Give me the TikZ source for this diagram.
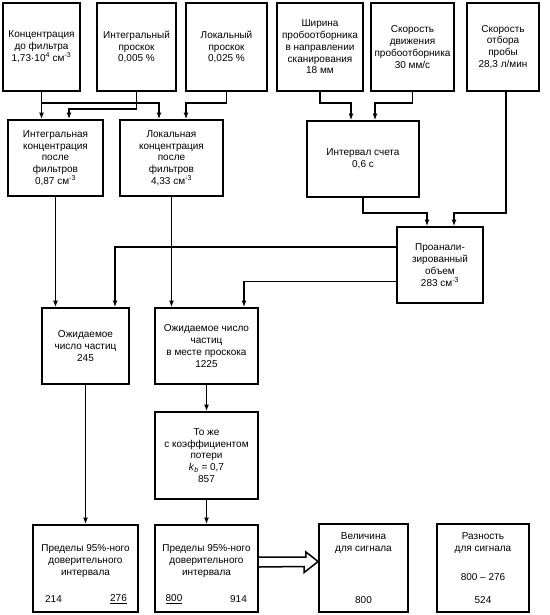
\documentclass[tikz,border=0pt]{standalone}
\usepackage{fontspec}
\setmainfont{Liberation Sans}
\usetikzlibrary{arrows.meta}

\begin{document}
\begin{tikzpicture}[x=1pt,y=-1pt,
        >={Latex[length=6.5pt,width=5pt]},
        blk/.style={draw, line width=1.8pt, align=center, inner sep=0pt,
            font=\fontsize{10}{11.8}\selectfont},
        txt/.style={align=center, inner sep=0pt, font=\fontsize{10}{11.8}\selectfont},
        conn/.style={line width=1.5pt}]
        \useasboundingbox (0,0) rectangle (549,615);

        \node[blk, minimum width=77, minimum height=88] (A) at (41.5,47) {Концентрация\\до фильтра\\1,73·10\textsuperscript{4} см\textsuperscript{-3}};
        \node[blk, minimum width=79, minimum height=88] (B) at (136.5,47) {Интегральный\\проскок\\0,005 \%};
        \node[blk, minimum width=81, minimum height=88] (C) at (226.5,47) {Локальный\\проскок\\0,025 \%};
        \node[blk, minimum width=86, minimum height=88] (D) at (320,47) {Ширина\\пробоотборника\\в направлении\\сканирования\\18 мм};
        \node[blk, minimum width=83, minimum height=88] (E) at (412.5,47) {Скорость\\движения\\пробоотборника\\30 мм/с};
        \node[blk, minimum width=72, minimum height=88] (F) at (503,47) {Скорость\\отбора\\пробы\\28,3 л/мин};
        \node[blk, minimum width=95, minimum height=76] (G) at (55.5,158) {Интегральная\\концентрация\\после\\фильтров\\0,87 см\textsuperscript{-3}};
        \node[blk, minimum width=103, minimum height=76] (H) at (171.5,158) {Локальная\\концентрация\\после\\фильтров\\4,33 см\textsuperscript{-3}};
        \node[blk, minimum width=112, minimum height=76] (I) at (363,159) {Интервал счета\\0,6 с};
        \node[blk, minimum width=86, minimum height=76] (J) at (440,265) {Проанали-\\зированный\\объем\\283 см\textsuperscript{-3}};
        \node[blk, minimum width=87, minimum height=76] (K) at (85.5,346) {Ожидаемое\\число частиц\\245};
        \node[blk, minimum width=103, minimum height=76] (L) at (206.5,346) {Ожидаемое число\\частиц\\в месте проскока\\1225};
        \node[blk, minimum width=103, minimum height=87] (M) at (206.5,455.5) {То же\\с коэффициентом\\потери\\\textit{k}\textsubscript{\textit{b}} = 0,7\\857};
        \node[blk, minimum width=105, minimum height=87] (N) at (85.5,568.5) {};
        \node[blk, minimum width=103, minimum height=87] (O) at (206.5,568.5) {};
        \node[blk, minimum width=89, minimum height=88] (P) at (363.5,568) {};
        \node[blk, minimum width=92, minimum height=88] (Q) at (483,568) {};

        \node[txt] (Nt) at ([yshift=7.5pt]N.center) {Пределы 95\%-ного\\доверительного\\интервала};
        \node[txt] (Nlo) at ([xshift=-32pt,yshift=-30.5pt]N.center) {214};
        \node[txt] (Nhi) at ([xshift=33pt,yshift=-30.5pt]N.center) {\underline{276}};
        \node[txt] (Ot) at ([yshift=7.5pt]O.center) {Пределы 95\%-ного\\доверительного\\интервала};
        \node[txt] (Olo) at ([xshift=-32.5pt,yshift=-30.5pt]O.center) {\underline{800}};
        \node[txt] (Ohi) at ([xshift=32pt,yshift=-30.5pt]O.center) {914};
        \node[txt] (Pt) at ([yshift=25pt]P.center) {Величина\\для сигнала};
        \node[txt] (Pv) at ([yshift=-32pt]P.center) {800};
        \node[txt] (Qt) at ([yshift=25pt]Q.center) {Разность\\для сигнала};
        \node[txt] (Qd) at ([yshift=-9pt]Q.center) {800 – 276};
        \node[txt] (Qv) at ([yshift=-32pt]Q.center) {524};

        \draw[conn,->] (A.south) -- (A.south |- G.north);
        \draw[conn,->] (A.south) -- ++(0,11) -| ([xshift=-12.5pt]H.north);
        \draw[conn,->] (B.south) -- ++(0,17) -| ([xshift=13.5pt]G.north);
        \draw[conn,->] (C.south) -- ++(0,11) -| ([xshift=14.5pt]H.north);
        \draw[conn,->] (D.south) -- ++(0,11) -| ([xshift=-12pt]I.north);
        \draw[conn,->] (E.south) -- ++(0,11) -| ([xshift=12pt]I.north);
        \draw[conn,->] (I.south) -- ++(0,15) -| ([xshift=-13pt]J.north);
        \draw[conn,->] ([xshift=3pt]F.south) -- ++(0,121) -| ([xshift=14pt]J.north);
        \draw[conn,->] ([yshift=18pt]J.west) -| ([xshift=29.5pt]K.north);
        \draw[conn,->] ([yshift=-16.5pt]J.west) -| ([xshift=37.5pt]L.north);
        \draw[conn,->] (G.south) -- (G.south |- K.north);
        \draw[conn,->] (H.south) -- (H.south |- L.north);
        \draw[conn,->] (K.south) -- (N.north);
        \draw[conn,->] (L.south) -- (M.north);
        \draw[conn,->] (M.south) -- (O.north);
        \draw[conn] ([yshift=11.5pt]O.east) -- ++(47,0) -- ++(0,-5) -- ([yshift=6.5pt]P.west)
            -- ++(-14,11) -- ++(0,-6) -- ([yshift=1.5pt]O.east);

    \end{tikzpicture}
\end{document}
